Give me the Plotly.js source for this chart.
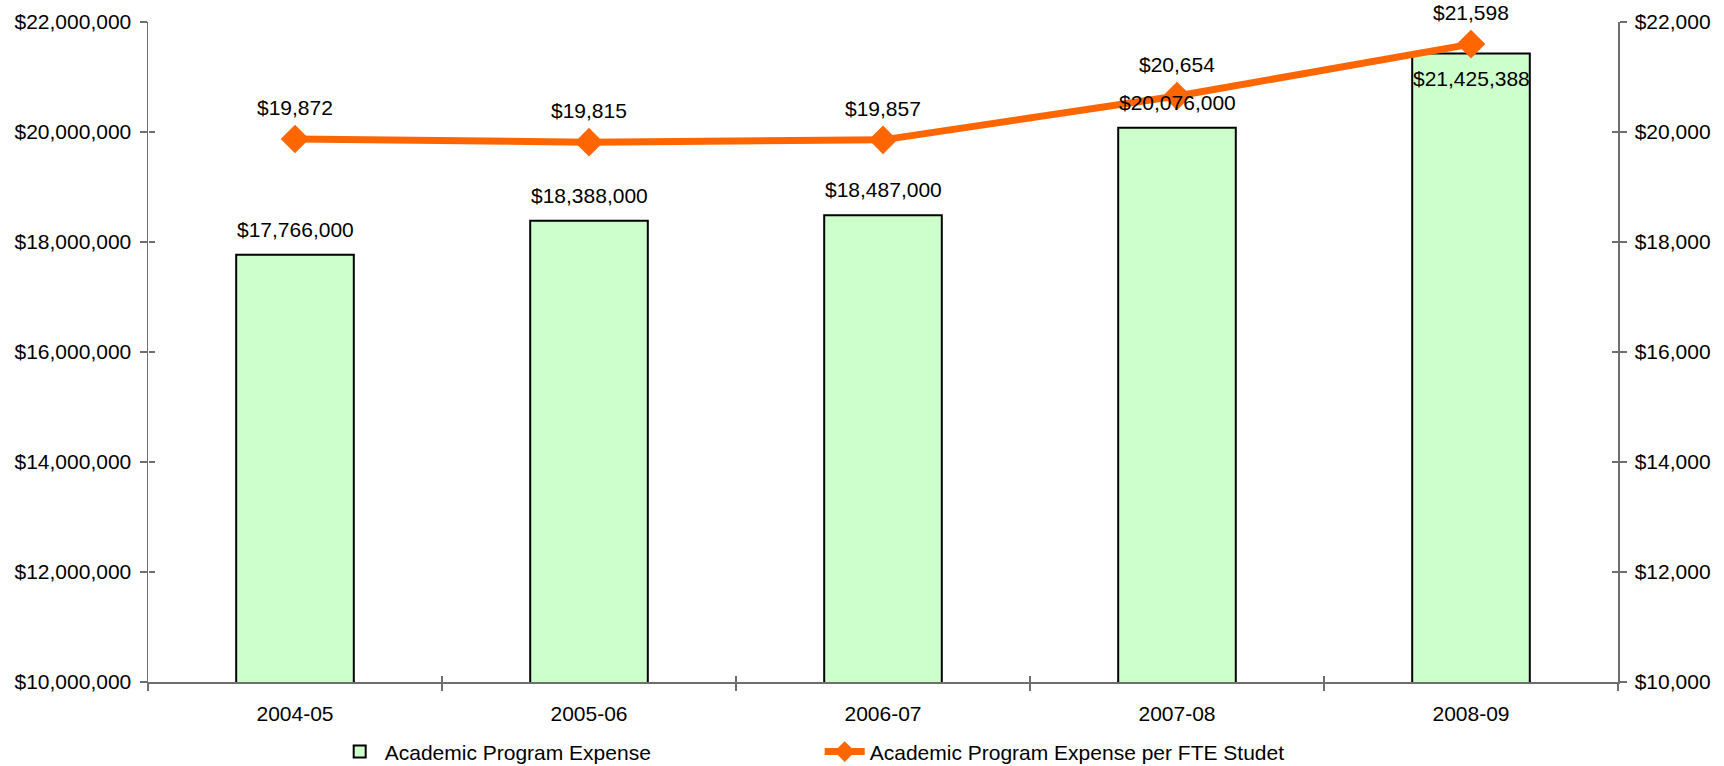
<!DOCTYPE html>
<html>
<head>
<meta charset="utf-8">
<script src="https://cdn.plot.ly/plotly-3.0.1.min.js"></script>
<style>html,body{margin:0;padding:0;background:#fff;}#chart{width:1724px;height:766px;}</style>
</head>
<body>
<div id="chart"></div>
<script>
const categories = ['2004-05', '2005-06', '2006-07', '2007-08', '2008-09'];
const programExpense = [17766000, 18388000, 18487000, 20076000, 21425388];
const expensePerFTE = [19872, 19815, 19857, 20654, 21598];
const seriesNames = ['Academic Program Expense', 'Academic Program Expense per FTE Studet'];

const FONT = 'Liberation Sans, Arial, sans-serif';
const FS = 21;
const AXIS_COLOR = '#6e6e6e';
const fmt = v => '$' + v.toLocaleString('en-US');

const barTrace = {
  type: 'bar', name: seriesNames[0], x: categories, y: programExpense,
  width: 0.4, marker: {color: '#CCFFCC', line: {color: '#000000', width: 2}},
  xaxis: 'x', yaxis: 'y', hoverinfo: 'none'
};
const lineTrace = {
  type: 'scatter', mode: 'lines+markers', name: seriesNames[1], x: categories, y: expensePerFTE,
  line: {color: '#FF6600', width: 7},
  marker: {symbol: 'diamond', size: 22, color: '#FF6600'},
  xaxis: 'x', yaxis: 'y2', hoverinfo: 'none'
};
// empty helper traces so the overlay tick axes (inner half of the crossing ticks) are drawn
const helperA = {type: 'scatter', mode: 'markers', x: [], y: [], xaxis: 'x2', yaxis: 'y3', showlegend: false, hoverinfo: 'none'};
const helperB = {type: 'scatter', mode: 'markers', x: [], y: [], xaxis: 'x2', yaxis: 'y4', showlegend: false, hoverinfo: 'none'};

const annotations = [];
const lastIdx = programExpense.length - 1;
programExpense.forEach((v, i) => {
  const inside = i === lastIdx;
  annotations.push({
    x: categories[i], y: v, xref: 'x', yref: 'y', text: fmt(v), showarrow: false,
    yanchor: inside ? 'top' : 'bottom', yshift: inside ? -11 : 12,
    font: {family: FONT, size: FS, color: '#000'}
  });
});
expensePerFTE.forEach((v, i) => {
  annotations.push({
    x: categories[i], y: v, xref: 'x', yref: 'y2', text: fmt(v), showarrow: false,
    yanchor: 'bottom', yshift: 18,
    font: {family: FONT, size: FS, color: '#000'}
  });
});

const commonY = {
  showgrid: false, zeroline: false, showline: true, linecolor: AXIS_COLOR, linewidth: 1.5,
  ticks: 'outside', ticklen: 7, tickcolor: AXIS_COLOR, tickwidth: 1.5,
  tickprefix: '$', tickformat: ',d', ticklabelstandoff: 4,
  tickfont: {family: FONT, size: FS, color: '#000'}
};
const innerTicks = {
  ticks: 'inside', ticklen: 6, tickcolor: AXIS_COLOR, tickwidth: 1.5,
  showticklabels: false, showline: false, showgrid: false, zeroline: false, fixedrange: true
};

const layout = {
  width: 1724, height: 766,
  margin: {l: 148, r: 106, t: 22, b: 84, autoexpand: false},
  paper_bgcolor: '#fff', plot_bgcolor: '#fff',
  font: {family: FONT, size: FS, color: '#000'},
  showlegend: true,
  legend: {
    orientation: 'h', x: 0.127, xanchor: 'left', y: -0.106, yanchor: 'middle',
    font: {family: FONT, size: FS, color: '#000'},
    entrywidth: 430, itemwidth: 40, tracegroupgap: 0, bgcolor: 'rgba(0,0,0,0)'
  },
  xaxis: {
    type: 'category', showgrid: false, zeroline: false, showline: true,
    linecolor: AXIS_COLOR, linewidth: 1.5, ticks: 'outside', ticklen: 7,
    tickcolor: AXIS_COLOR, tickwidth: 1.5, tickson: 'boundaries',
    ticklabelstandoff: 12, tickfont: {family: FONT, size: FS, color: '#000'},
    range: [-0.5, 4.5]
  },
  xaxis2: Object.assign({}, innerTicks, {
    overlaying: 'x', anchor: 'y', side: 'bottom', type: 'linear', range: [-0.5, 4.5],
    tickmode: 'linear', tick0: -0.5, dtick: 1
  }),
  yaxis: Object.assign({}, commonY, {range: [10000000, 22000000], dtick: 2000000, side: 'left'}),
  yaxis2: Object.assign({}, commonY, {range: [10000, 22000], dtick: 2000, side: 'right', overlaying: 'y', anchor: 'x'}),
  yaxis3: Object.assign({}, innerTicks, {
    overlaying: 'y', anchor: 'free', position: 0, side: 'left', type: 'linear',
    range: [10000000, 22000000], tickmode: 'linear', tick0: 10000000, dtick: 2000000
  }),
  yaxis4: Object.assign({}, innerTicks, {
    overlaying: 'y', anchor: 'free', position: 1, side: 'right', type: 'linear',
    range: [10000, 22000], tickmode: 'linear', tick0: 10000, dtick: 2000
  }),
  annotations: annotations
};

Plotly.newPlot('chart', [barTrace, lineTrace, helperA, helperB], layout, {staticPlot: true, displayModeBar: false});
</script>
</body>
</html>
